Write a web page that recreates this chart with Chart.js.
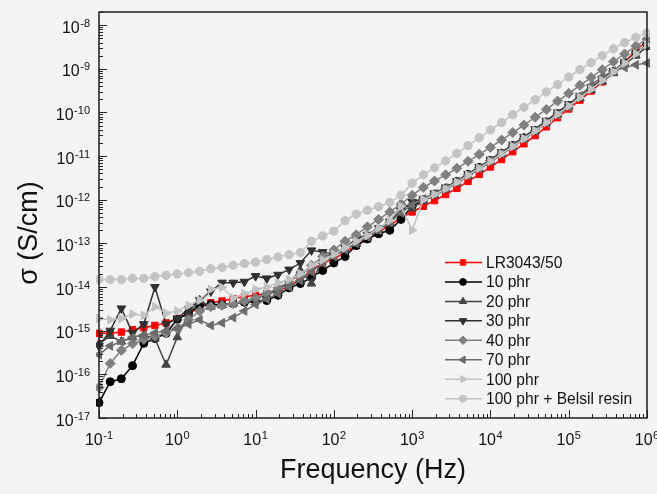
<!DOCTYPE html>
<html>
<head>
<meta charset="utf-8">
<script src="https://cdn.jsdelivr.net/npm/chart.js@4/dist/chart.umd.min.js"></script>
<style>
  html, body { margin: 0; padding: 0; background: #f4f4f4; }
  #wrap { position: relative; width: 657px; height: 494px; }
</style>
</head>
<body>
<div id="wrap"><canvas id="chart"></canvas></div>
<script>
"use strict";

// frequency (Hz), ~7 points per decade
var freq = [0.1, 0.139, 0.193, 0.268, 0.373, 0.518, 0.72, 1, 1.39, 1.93, 2.68, 3.73, 5.18, 7.2,
    10, 13.9, 19.3, 26.8, 37.3, 51.8, 72, 100, 139, 193, 268, 373, 518, 720,
    1e3, 1.39e3, 1.93e3, 2.68e3, 3.73e3, 5.18e3, 7.2e3, 1e4, 1.39e4, 1.93e4, 2.68e4, 3.73e4, 5.18e4, 7.2e4,
    1e5, 1.39e5, 1.93e5, 2.68e5, 3.73e5, 5.18e5, 7.2e5, 1e6];

// conductivity (S/cm)
var lr3043 = [8.7e-16, 8.7e-16, 9.3e-16, 1.05e-15, 1.17e-15, 1.32e-15, 1.51e-15, 1.91e-15, 2.51e-15, 3.31e-15,
    4.37e-15, 4.79e-15, 5.37e-15, 6.03e-15, 6.46e-15, 7.08e-15, 8.32e-15, 1.05e-14, 1.51e-14, 2.4e-14,
    3.55e-14, 4.37e-14, 6.31e-14, 8.91e-14, 1.26e-13, 1.78e-13, 2.63e-13, 3.8e-13, 5.25e-13, 7.08e-13,
    9.55e-13, 1.32e-12, 1.82e-12, 2.63e-12, 3.8e-12, 5.62e-12, 8.32e-12, 1.26e-11, 1.91e-11, 2.95e-11,
    4.68e-11, 7.59e-11, 1.2e-10, 1.91e-10, 3.09e-10, 5.01e-10, 8.32e-10, 1.41e-9, 2.63e-9, 4.37e-9];
var phr10 = [2.24e-17, 6.76e-17, 7.94e-17, 1.58e-16, 5.13e-16, 6.61e-16, 8.71e-16, 1.82e-15, 2.51e-15, 3.8e-15,
    3.98e-15, 3.98e-15, 4.17e-15, 4.47e-15, 4.68e-15, 4.9e-15, 6.46e-15, 9.55e-15, 1.2e-14, 1.66e-14,
    2.4e-14, 3.55e-14, 5.01e-14, 8.91e-14, 1.26e-13, 1.66e-13, 2.0e-13, 3.55e-13, 7.08e-13, 1.0e-12,
    1.35e-12, 1.86e-12, 2.63e-12, 3.8e-12, 5.5e-12, 7.94e-12, 1.17e-11, 1.74e-11, 2.63e-11, 3.89e-11,
    6.03e-11, 9.33e-11, 1.45e-10, 2.24e-10, 3.47e-10, 5.5e-10, 8.71e-10, 1.38e-9, 2.29e-9, 3.55e-9];
var phr20 = [5.01e-16, 7.59e-16, 5.62e-16, 7.08e-16, 7.94e-16, 6.61e-16, 1.66e-16, 7.08e-16, 2.4e-15, 5.01e-15,
    3.55e-15, 3.8e-15, 4.17e-15, 4.79e-15, 5.5e-15, 6.61e-15, 8.91e-15, 1.26e-14, 2.4e-14, 1.2e-14,
    4.47e-14, 6.31e-14, 7.08e-14, 1.0e-13, 1.41e-13, 1.91e-13, 2.82e-13, 7.94e-13, 6.31e-13, 9.55e-13,
    1.26e-12, 1.74e-12, 2.4e-12, 3.47e-12, 5.01e-12, 7.41e-12, 1.1e-11, 1.62e-11, 2.45e-11, 3.72e-11,
    5.75e-11, 8.91e-11, 1.38e-10, 2.14e-10, 3.31e-10, 5.13e-10, 7.94e-10, 1.26e-9, 2.0e-9, 3.16e-9];
var phr30 = [4.47e-16, 1.0e-15, 3.24e-15, 8.91e-16, 1.41e-15, 1.0e-14, 1.41e-15, 1.91e-15, 3.16e-15, 5.01e-15,
    7.94e-15, 1.26e-14, 1.26e-14, 1.32e-14, 1.78e-14, 1.58e-14, 1.91e-14, 2.51e-14, 3.55e-14, 6.92e-14,
    6.31e-14, 5.62e-14, 7.94e-14, 1.26e-13, 1.58e-13, 2.24e-13, 3.16e-13, 5.62e-13, 8.91e-13, 1.05e-12,
    1.41e-12, 1.91e-12, 2.69e-12, 3.89e-12, 5.62e-12, 8.32e-12, 1.23e-11, 1.82e-11, 2.75e-11, 4.17e-11,
    6.46e-11, 1.0e-10, 1.55e-10, 2.4e-10, 3.72e-10, 5.75e-10, 8.91e-10, 1.41e-9, 2.24e-9, 3.39e-9];
var phr40 = [5.01e-17, 1.78e-16, 3.55e-16, 5.01e-16, 6.31e-16, 7.59e-16, 8.91e-16, 1.12e-15, 1.78e-15, 2.82e-15,
    3.55e-15, 3.8e-15, 4.17e-15, 4.79e-15, 5.62e-15, 7.08e-15, 9.55e-15, 1.32e-14, 1.91e-14, 3.16e-14,
    5.01e-14, 7.08e-14, 1.12e-13, 1.58e-13, 2.4e-13, 3.55e-13, 5.25e-13, 7.94e-13, 1.26e-12, 1.91e-12,
    2.69e-12, 3.72e-12, 5.25e-12, 7.59e-12, 1.1e-11, 1.58e-11, 2.34e-11, 3.47e-11, 5.13e-11, 7.76e-11,
    1.17e-10, 1.82e-10, 2.75e-10, 4.17e-10, 6.31e-10, 9.55e-10, 1.45e-9, 2.19e-9, 3.31e-9, 4.79e-9];
var phr70 = [2.82e-16, 4.47e-16, 5.62e-16, 7.08e-16, 7.94e-16, 8.91e-16, 1.0e-15, 1.12e-15, 1.41e-15, 1.78e-15,
    1.32e-15, 1.51e-15, 2.0e-15, 2.82e-15, 3.98e-15, 5.25e-15, 7.08e-15, 1.0e-14, 1.41e-14, 2.24e-14,
    3.55e-14, 5.01e-14, 7.08e-14, 1.0e-13, 1.41e-13, 2.0e-13, 3.02e-13, 5.01e-13, 7.59e-13, 1.05e-12,
    1.38e-12, 1.86e-12, 2.63e-12, 3.72e-12, 5.37e-12, 7.94e-12, 1.15e-11, 1.7e-11, 2.51e-11, 3.8e-11,
    5.75e-11, 8.71e-11, 1.32e-10, 2.4e-10, 4.17e-10, 6.61e-10, 8.91e-10, 1.07e-9, 1.23e-9, 1.35e-9];
var phr100 = [1.91e-15, 1.78e-15, 1.91e-15, 2.4e-15, 2.24e-15, 3.55e-15, 2.51e-15, 2.82e-15, 3.8e-15, 5.01e-15,
    8.91e-15, 9.77e-15, 5.62e-15, 7.08e-15, 8.91e-15, 1.0e-14, 1.26e-14, 1.51e-14, 2.0e-14, 3.16e-14,
    4.17e-14, 5.62e-14, 7.94e-14, 1.12e-13, 1.51e-13, 2.24e-13, 3.31e-13, 7.08e-13, 2.0e-13, 1.0e-12,
    1.32e-12, 1.78e-12, 2.51e-12, 3.63e-12, 5.25e-12, 7.59e-12, 1.12e-11, 1.66e-11, 2.51e-11, 3.8e-11,
    5.89e-11, 9.12e-11, 1.41e-10, 2.19e-10, 3.39e-10, 5.37e-10, 8.51e-10, 1.35e-9, 2.19e-9, 3.55e-9];
var phr100Belsil = [1.48e-14, 1.48e-14, 1.48e-14, 1.58e-14, 1.58e-14, 1.74e-14, 1.86e-14, 2.0e-14, 2.14e-14, 2.29e-14,
    2.63e-14, 2.82e-14, 3.16e-14, 3.47e-14, 3.72e-14, 4.27e-14, 4.9e-14, 5.5e-14, 6.17e-14, 1.12e-13,
    1.48e-13, 1.91e-13, 3.31e-13, 4.68e-13, 5.75e-13, 6.92e-13, 8.71e-13, 1.26e-12, 2.4e-12, 3.72e-12,
    5.37e-12, 7.76e-12, 1.15e-11, 1.74e-11, 2.63e-11, 3.98e-11, 5.89e-11, 8.91e-11, 1.32e-10, 1.95e-10,
    2.95e-10, 4.37e-10, 6.46e-10, 9.55e-10, 1.38e-9, 2.0e-9, 2.88e-9, 3.98e-9, 5.25e-9, 6.61e-9];

var seriesNames = ['LR3043/50', '10 phr', '20 phr', '30 phr', '40 phr', '70 phr', '100 phr', '100 phr + Belsil resin'];

// decade exponents for axis labels
var xTickExps = [-1, 0, 1, 2, 3, 4, 5, 6];
var yTickExps = [-17, -16, -15, -14, -13, -12, -11, -10, -9, -8];

var FONT = '"Liberation Sans", Arial, sans-serif';

var styles = [
    {color: '#ff0000', pointStyle: 'rect', radius: 4.5, rotation: 0},
    {color: '#000000', pointStyle: 'circle', radius: 4, rotation: 0},
    {color: '#454545', pointStyle: 'triangle', radius: 5, rotation: 0},
    {color: '#303030', pointStyle: 'triangle', radius: 5, rotation: 180},
    {color: '#808080', pointStyle: 'rectRot', radius: 5, rotation: 0},
    {color: '#6c6c6c', pointStyle: 'triangle', radius: 5, rotation: 270},
    {color: '#c2c2c2', pointStyle: 'triangle', radius: 5, rotation: 90},
    {color: '#c4c4c4', pointStyle: 'circle', radius: 4.2, rotation: 0}
];
var allValues = [lr3043, phr10, phr20, phr30, phr40, phr70, phr100, phr100Belsil];

function toPoints(values) {
    return values.map(function (v, i) { return {x: freq[i], y: v}; });
}

var datasets = allValues.map(function (values, k) {
    var s = styles[k];
    return {
        label: seriesNames[k],
        data: toPoints(values),
        borderColor: s.color,
        backgroundColor: s.color,
        borderWidth: 1.5,
        pointStyle: s.pointStyle,
        pointRadius: s.radius,
        pointRotation: s.rotation,
        pointBackgroundColor: s.color,
        pointBorderColor: s.color,
        pointBorderWidth: 1,
        tension: 0,
        clip: 3,
        order: allValues.length - k
    };
});

function drawPower(ctx, exp, x, yBase, align) {
    ctx.font = '16px ' + FONT;
    var wb = ctx.measureText('10').width;
    ctx.font = '11px ' + FONT;
    var ws = ctx.measureText(String(exp)).width;
    var total = wb + ws + 0.5;
    var left = align === 'right' ? x - total : x - total / 2;
    ctx.textAlign = 'left';
    ctx.textBaseline = 'alphabetic';
    ctx.font = '16px ' + FONT;
    ctx.fillText('10', left, yBase);
    ctx.font = '11px ' + FONT;
    ctx.fillText(String(exp), left + wb + 0.5, yBase - 6);
}

var axisDeco = {
    id: 'axisDeco',
    afterDraw: function (chart) {
        var ctx = chart.ctx;
        var a = chart.chartArea;
        var xs = chart.scales.x;
        var ys = chart.scales.y;
        ctx.save();

        // inward ticks
        ctx.strokeStyle = '#222';
        ctx.lineWidth = 1;
        ctx.beginPath();
        xTickExps.forEach(function (e) {
            for (var m = 1; m <= 9; m++) {
                var v = m * Math.pow(10, e);
                if (v < xs.min * 0.999 || v > xs.max * 1.001) continue;
                var px = Math.round(xs.getPixelForValue(v)) + 0.5;
                ctx.moveTo(px, a.bottom);
                ctx.lineTo(px, a.bottom - (m === 1 ? 8 : 4));
            }
        });
        yTickExps.forEach(function (e) {
            for (var m = 1; m <= 9; m++) {
                var v = m * Math.pow(10, e);
                if (v < ys.min * 0.999 || v > ys.max * 1.001) continue;
                var py = Math.round(ys.getPixelForValue(v)) + 0.5;
                ctx.moveTo(a.left, py);
                ctx.lineTo(a.left + (m === 1 ? 8 : 4), py);
            }
        });
        ctx.stroke();

        // frame
        ctx.strokeStyle = '#1e1e1e';
        ctx.lineWidth = 1.5;
        ctx.strokeRect(a.left, a.top, a.right - a.left, a.bottom - a.top);

        // tick labels
        ctx.fillStyle = '#111';
        xTickExps.forEach(function (e) {
            drawPower(ctx, e, xs.getPixelForValue(Math.pow(10, e)), a.bottom + 27, 'center');
        });
        yTickExps.forEach(function (e) {
            drawPower(ctx, e, a.left - 9, ys.getPixelForValue(Math.pow(10, e)) + 7.5, 'right');
        });

        // axis titles
        ctx.font = '27px ' + FONT;
        ctx.textAlign = 'center';
        ctx.textBaseline = 'alphabetic';
        ctx.fillText('Frequency (Hz)', (a.left + a.right) / 2, 478);
        ctx.save();
        ctx.translate(30, 233);
        ctx.rotate(-Math.PI / 2);
        ctx.textBaseline = 'middle';
        ctx.fillText('\u03c3 (S/cm)', 0, 0);
        ctx.restore();

        // legend
        var drawPoint = Chart.helpers && Chart.helpers.drawPoint;
        ctx.font = '15.6px ' + FONT;
        ctx.textAlign = 'left';
        ctx.textBaseline = 'middle';
        chart.data.datasets.forEach(function (ds, k) {
            var yRow = 262.5 + k * 19.45;
            ctx.strokeStyle = ds.borderColor;
            ctx.fillStyle = ds.borderColor;
            ctx.lineWidth = 1.5;
            ctx.beginPath();
            ctx.moveTo(445, yRow);
            ctx.lineTo(482, yRow);
            ctx.stroke();
            if (drawPoint) {
                ctx.lineWidth = 1;
                drawPoint(ctx, {pointStyle: ds.pointStyle, radius: ds.pointRadius * 0.85,
                    rotation: ds.pointRotation, borderWidth: 1}, 463, yRow);
            }
            ctx.fillStyle = '#111';
            ctx.fillText(ds.label, 486, yRow + 1);
        });
        ctx.restore();
    }
};

new Chart(document.getElementById('chart'), {
    type: 'line',
    data: {datasets: datasets},
    options: {
        responsive: true,
        maintainAspectRatio: false,
        animation: false,
        layout: {padding: {left: 99, top: 12, right: 10, bottom: 76}},
        scales: {
            x: {type: 'logarithmic', min: 0.1, max: 1e6, display: false},
            y: {type: 'logarithmic', min: 1e-17, max: 2e-8, display: false}
        },
        plugins: {
            legend: {display: false},
            title: {display: false},
            tooltip: {enabled: false}
        }
    },
    plugins: [axisDeco]
});
</script>
</body>
</html>
